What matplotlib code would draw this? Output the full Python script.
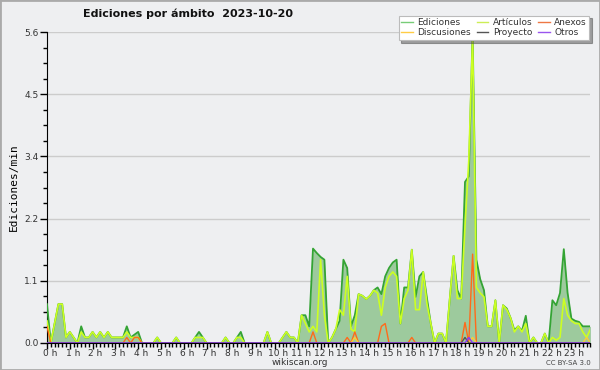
import matplotlib
matplotlib.use("Agg")
import matplotlib.pyplot as plt
import matplotlib.transforms as mtransforms
from matplotlib.lines import Line2D
import numpy as np

# 10-minute bins, values in edits/min
ediciones = [0.7, 0, 0.35, 0.7, 0.7, 0.1, 0.2, 0.1, 0, 0.3, 0.1, 0.1,
             0.2, 0.1, 0.2, 0.1, 0.2, 0.1, 0.1, 0.1, 0.1, 0.3, 0.1, 0.15,
             0.2, 0, 0, 0, 0, 0.1, 0, 0, 0, 0, 0.1, 0,
             0, 0, 0, 0.1, 0.2, 0.1, 0, 0, 0, 0, 0, 0.1,
             0, 0, 0.1, 0.2, 0, 0, 0, 0, 0, 0, 0.2, 0,
             0, 0, 0.1, 0.2, 0.1, 0.1, 0, 0.5, 0.5, 0.3, 1.7, 1.62,
             1.55, 1.5, 0, 0.1, 0.25, 0.4, 1.5, 1.35, 0.3, 0.5, 0.88, 0.85,
             0.79, 0.85, 0.95, 1.0, 0.88, 1.2, 1.35, 1.45, 1.5, 0.35, 1.0, 1.0,
             1.68, 0.83, 1.2, 1.28, 0.8, 0.35, 0, 0.17, 0.17, 0, 0.8, 1.57,
             0.95, 0.8, 2.9, 3.0, 5.6, 1.5, 1.15, 0.95, 0.3, 0.3, 0.77, 0,
             0.68, 0.62, 0.45, 0.23, 0.3, 0.22, 0.49, 0, 0.1, 0, 0, 0.17,
             0, 0.77, 0.68, 0.9, 1.69, 0.9, 0.44, 0.4, 0.38, 0.3, 0.3, 0.3]
articulos = [0.4, 0, 0.35, 0.7, 0.7, 0.1, 0.2, 0.1, 0, 0.2, 0.1, 0.1,
             0.2, 0.1, 0.2, 0.1, 0.2, 0.1, 0.1, 0.1, 0.1, 0.2, 0.1, 0.1,
             0.1, 0, 0, 0, 0, 0.1, 0, 0, 0, 0, 0.1, 0,
             0, 0, 0, 0.1, 0.1, 0.1, 0, 0, 0, 0, 0, 0.1,
             0, 0, 0.1, 0.1, 0, 0, 0, 0, 0, 0, 0.2, 0,
             0, 0, 0.1, 0.2, 0.1, 0.1, 0, 0.5, 0.35, 0.2, 0.3, 0.2,
             1.5, 0.5, 0, 0.1, 0.25, 0.6, 0.5, 1.2, 0.25, 0.2, 0.88, 0.85,
             0.79, 0.85, 0.95, 0.9, 0.5, 1.0, 1.2, 1.28, 1.2, 0.35, 0.8, 0.95,
             1.68, 0.6, 0.6, 1.28, 0.7, 0.35, 0, 0.17, 0.17, 0, 0.8, 1.57,
             0.8, 0.8, 2.1, 3.3, 5.5, 1.0, 0.9, 0.83, 0.3, 0.3, 0.77, 0,
             0.68, 0.6, 0.45, 0.2, 0.3, 0.2, 0.35, 0, 0.1, 0, 0, 0.17,
             0, 0.1, 0.05, 0.1, 0.8, 0.5, 0.4, 0.35, 0.35, 0.2, 0.1, 0.25]
anexos = [0.0] * 144
for k, v in {0: 0.3, 21: 0.1, 23: 0.1, 24: 0.1, 70: 0.2, 79: 0.1, 81: 0.2,
             88: 0.3, 89: 0.35, 96: 0.1, 110: 0.37, 112: 1.6}.items():
    anexos[k] = v
discusiones = [0.0] * 144
for k, v in {81: 0.1, 112: 0.1, 142: 0.1}.items():
    discusiones[k] = v
proyecto = [0.0] * 144
proyecto[110] = 0.1
otros = [0.0] * 144
otros[111] = 0.1

hour_labels = [f"{h} h" for h in range(24)]

x = np.arange(len(ediciones)) / 6.0

bg = "#eeeff1"
fig = plt.figure(figsize=(6.0, 3.7), dpi=100, facecolor=bg)
ax = fig.add_axes([47 / 600, 27 / 370, 543.4 / 600, 311 / 370], facecolor=bg)

ymax = 5.6
ax.set_xlim(0, x[-1])
ax.set_ylim(0, ymax)

yt = np.linspace(0, ymax, 6)
for yv in yt[1:]:
    ax.axhline(yv, color="#cccccc", lw=1, zorder=0)

ax.fill_between(x, ediciones, 0, color="#9dca9d", lw=0, zorder=1)
ax.plot(x, ediciones, color="#34a434", lw=1.3, zorder=3, label="Ediciones")
ax.plot(x, articulos, color="#ccff22", lw=1.2, zorder=4, label="Artículos")
ax.plot(x, anexos, color="#ff6a1a", lw=1.0, zorder=5, label="Anexos")
ax.plot(x, discusiones, color="#ffcc33", lw=1.0, zorder=5, label="Discusiones")
ax.plot(x, proyecto, color="#555555", lw=1.0, zorder=5, label="Proyecto")
ax.plot(x, otros, color="#8833ff", lw=1.0, zorder=6, label="Otros")

for s in ["top", "right"]:
    ax.spines[s].set_visible(False)
ax.spines["left"].set_color("black")
ax.spines["bottom"].set_color("black")
ax.spines["bottom"].set_zorder(10)

ax.set_yticks(yt)
ax.set_yticklabels([f"{v:.1f}" for v in yt], fontsize=6.5, color="#333333")
ax.set_yticks(np.arange(0, ymax + 0.01, ymax / 20), minor=True)
ax.tick_params(axis="y", which="major", length=5, width=1, pad=1)
ax.tick_params(axis="y", which="minor", length=3, width=1)

ax.set_xticks(np.arange(24))
ax.set_xticklabels(hour_labels, fontsize=6.5, color="#333333")
ax.set_xticks(np.arange(0, 24, 1 / 6), minor=True)
ax.tick_params(axis="x", which="major", length=4, width=1, pad=0.5)
ax.tick_params(axis="x", which="minor", length=3, width=1)
off = mtransforms.ScaledTranslation(3 / 100, 0, fig.dpi_scale_trans)
for lab in ax.get_xticklabels():
    lab.set_transform(lab.get_transform() + off)

ax.set_ylabel("Ediciones/min", fontsize=8, family="DejaVu Sans Mono", labelpad=4)
fig.text(0.5, 0.02, "wikiscan.org", fontsize=6.5, color="#333333", ha="center", va="center")
fig.text(0.985, 0.018, "CC BY-SA 3.0", fontsize=5, color="#444444", ha="right", va="center")
fig.text(0.314, 0.962, "Ediciones por ámbito  2023-10-20", fontsize=8, fontweight="bold",
         ha="center", va="center", color="#111111")

handles, labels = ax.get_legend_handles_labels()
order = [0, 3, 1, 4, 2, 5]
leg_colors = {"Ediciones": "#77cc77", "Artículos": "#ccee55", "Anexos": "#ee7744",
              "Discusiones": "#ffcc44", "Proyecto": "#555555", "Otros": "#9955ee"}
lh = [Line2D([], [], color=leg_colors[labels[i]], lw=1) for i in order]
ll = [labels[i] for i in order]
leg = fig.legend(lh, ll, ncol=3, loc="upper right", bbox_to_anchor=(0.99, 0.97),
                 fontsize=6.5, frameon=True, fancybox=False, shadow=True,
                 handlelength=1.3, handletextpad=0.5, columnspacing=0.6,
                 labelspacing=0.1, borderpad=0.3)
leg.get_frame().set_edgecolor("#bbbbbb")
leg.get_frame().set_linewidth(0.8)
for t in leg.get_texts():
    t.set_color("#333333")

fig.patches.append(plt.Rectangle((0, 0), 1, 1, transform=fig.transFigure,
                                 fill=False, edgecolor="#aaaaaa", lw=2))
fig.savefig("out.png", dpi=100, facecolor=bg)
